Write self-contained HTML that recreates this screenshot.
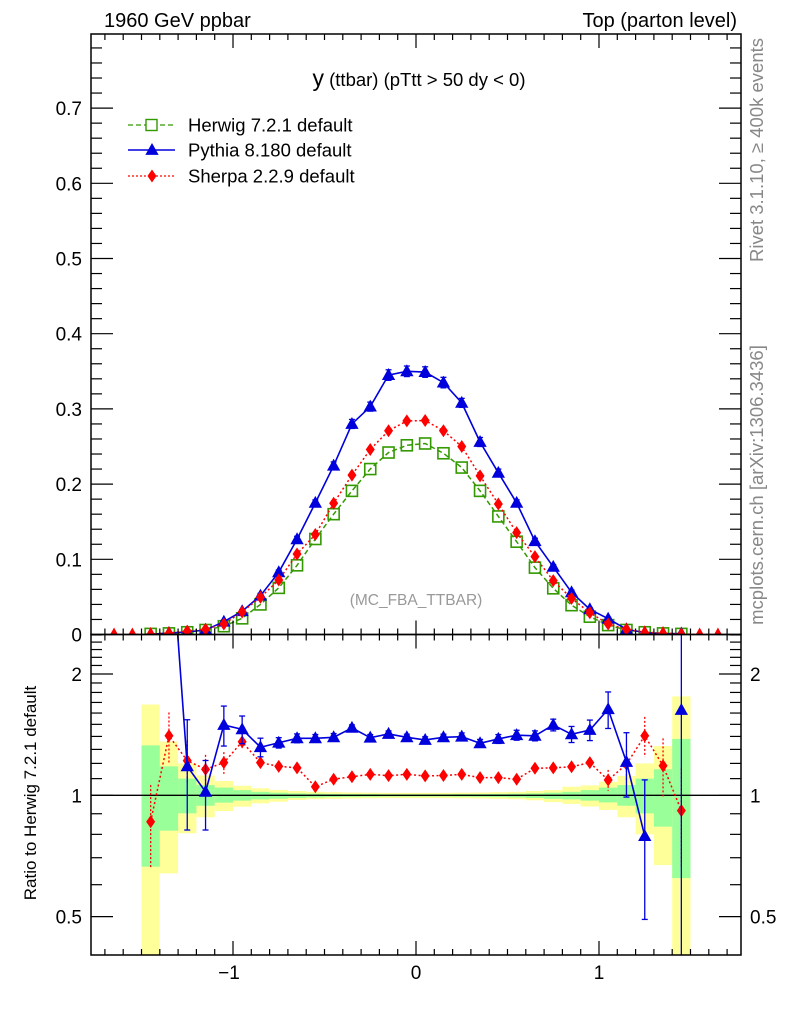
<!DOCTYPE html>
<html><head><meta charset="utf-8"><style>
html,body{margin:0;padding:0;background:#fff;overflow:hidden;width:786px;height:1024px;}
svg{display:block;font-family:"Liberation Sans",sans-serif;}
</style></head><body>
<svg id="c" width="786" height="1024" xmlns="http://www.w3.org/2000/svg"></svg>
<script>
const mainX = [-1.65,-1.55,-1.45,-1.35,-1.25,-1.15,-1.05,-0.95,-0.85,-0.75,-0.65,-0.55,-0.45,-0.35,-0.25,-0.15,-0.05,0.05,0.15,0.25,0.35,0.45,0.55,0.65,0.75,0.85,0.95,1.05,1.15,1.25,1.35,1.45,1.55,1.65];
const herwig = [null,null,0.0008,0.0015,0.003,0.006,0.011,0.0215,0.040,0.062,0.092,0.127,0.160,0.191,0.220,0.242,0.2516,0.254,0.241,0.222,0.191,0.157,0.1234,0.0889,0.0614,0.039,0.0237,0.0125,0.006,0.003,0.0015,0.0008,null,null];
const pythia = [null,null,0.0003,0.002,0.0035,0.006,0.017,0.031,0.0516,0.0827,0.1266,0.175,0.2245,0.28,0.303,0.345,0.350,0.349,0.335,0.308,0.256,0.215,0.175,0.124,0.090,0.056,0.0335,0.021,0.007,0.0025,0.001,0.0013,null,null];
const sherpa = [0,0,0.0007,0.002,0.0045,0.007,0.014,0.030,0.0495,0.0725,0.107,0.133,0.1745,0.212,0.246,0.271,0.284,0.2845,0.271,0.25,0.211,0.1735,0.1354,0.1035,0.0716,0.048,0.029,0.014,0.007,0.003,0.002,0.0007,0,0];
const pythiaErr = [0,0,0.001,0.001,0.001,0.001,0.002,0.002,0.003,0.003,0.004,0.004,0.005,0.006,0.006,0.007,0.007,0.007,0.007,0.006,0.006,0.005,0.004,0.004,0.003,0.003,0.002,0.002,0.001,0.001,0.001,0.001,0,0];
const ratioX = [-1.45,-1.35,-1.25,-1.15,-1.05,-0.95,-0.85,-0.75,-0.65,-0.55,-0.45,-0.35,-0.25,-0.15,-0.05,0.05,0.15,0.25,0.35,0.45,0.55,0.65,0.75,0.85,0.95,1.05,1.15,1.25,1.35,1.45];
const yelUp = [1.68,1.36,1.20,1.12,1.085,1.056,1.041,1.031,1.025,1.02,1.018,1.016,1.015,1.014,1.014,1.014,1.014,1.015,1.016,1.018,1.02,1.025,1.03,1.05,1.058,1.08,1.117,1.20,1.325,1.76];
const yelDn = [0.3,0.64,0.805,0.882,0.914,0.937,0.955,0.964,0.974,0.978,0.98,0.982,0.983,0.984,0.984,0.984,0.984,0.983,0.982,0.98,0.978,0.972,0.962,0.952,0.938,0.92,0.882,0.80,0.671,0.3];
const grUp = [1.33,1.18,1.10,1.06,1.045,1.03,1.02,1.015,1.011,1.009,1.008,1.007,1.007,1.006,1.006,1.006,1.006,1.007,1.007,1.008,1.009,1.011,1.015,1.02,1.03,1.045,1.06,1.10,1.16,1.38];
const grDn = [0.665,0.817,0.902,0.942,0.959,0.97,0.977,0.981,0.985,0.988,0.99,0.991,0.992,0.993,0.993,0.993,0.993,0.992,0.991,0.99,0.988,0.985,0.98,0.977,0.97,0.96,0.942,0.902,0.836,0.623];
const pyRatio = [null,5,1.18,1.02,1.495,1.458,1.316,1.35,1.385,1.385,1.393,1.47,1.39,1.42,1.393,1.372,1.393,1.398,1.346,1.38,1.41,1.405,1.495,1.417,1.452,1.635,1.21,0.792,null,1.628];
const pyRatioErr = [null,0,0.36,0.2,0.17,0.115,0.07,0.04,0.035,0.03,0.03,0.025,0.025,0.025,0.025,0.025,0.025,0.03,0.03,0.035,0.04,0.04,0.05,0.065,0.085,0.17,0.22,0.3,null,3];
const shRatio = [0.86,1.405,1.219,1.16,1.205,1.358,1.205,1.18,1.17,1.05,1.096,1.112,1.127,1.119,1.127,1.117,1.12,1.127,1.106,1.106,1.096,1.167,1.17,1.177,1.205,1.091,1.194,1.405,1.184,0.916];
const shRatioErr = [0.2,0.2,0.15,0.1,0.075,0.06,0.03,0.025,0.02,0.02,0.02,0.02,0.02,0.02,0.02,0.02,0.02,0.02,0.02,0.02,0.02,0.025,0.025,0.03,0.035,0.065,0.1,0.16,0.2,0.25];
const mainTicks = ["0","0.1","0.2","0.3","0.4","0.5","0.6","0.7"];
const xTicks = ["\u22121","0","1"];

const L=91,R=741,MT=34,MB=634.5,RT=634.5,RB=955;
const sx=v=>416+183*v;
const sy=v=>MB-752*v;
const ry=r=>795.3-121.3*Math.log2(r);
const svg=document.getElementById('c');
const NS='http://www.w3.org/2000/svg';
function el(t,a,p){const e=document.createElementNS(NS,t);for(const k in a)e.setAttribute(k,a[k]);(p||svg).appendChild(e);return e;}
function txt(s,a,p){const e=el('text',a,p);e.textContent=s;return e;}
function clip(id,y1,y2){const d=el('clipPath',{id});el('rect',{x:L,y:y1,width:R-L,height:y2-y1},d);}
clip('cm',MT,MB);clip('cr',RT,RB);

let t;
t=txt('1960 GeV ppbar',{x:104,y:27,'font-size':20});

t=txt('Top (parton level)',{x:737,y:27,'font-size':20,'text-anchor':'end'});

t=el('text',{x:419,y:86,'font-size':18.5,'text-anchor':'middle'});
t.innerHTML='<tspan font-size="23">y</tspan> (ttbar) (pTtt &gt; 50 dy &lt; 0)';

t=txt('Rivet 3.1.10, \u2265 400k events',{x:0,y:0,'font-size':18.5,fill:'#888','text-anchor':'middle',transform:'translate(763,150) rotate(-90)'});

t=txt('mcplots.cern.ch [arXiv:1306.3436]',{x:0,y:0,'font-size':18.5,fill:'#888','text-anchor':'middle',transform:'translate(763,485) rotate(-90)'});

t=txt('Ratio to Herwig 7.2.1 default',{x:0,y:0,'font-size':17,'text-anchor':'middle',transform:'translate(36,793) rotate(-90)'});

t=txt('(MC_FBA_TTBAR)',{x:416,y:605,'font-size':15.5,fill:'#999','text-anchor':'middle'});


const gb=el('g',{'clip-path':'url(#cr)'});

ratioX.forEach((x,i)=>{
  const x1=sx(x-0.05),x2=sx(x+0.05);
  let r=el('rect',{x:x1,y:ry(yelUp[i]),width:x2-x1,height:ry(yelDn[i])-ry(yelUp[i]),fill:'#ffff99'},gb);
  
});
ratioX.forEach((x,i)=>{
  const x1=sx(x-0.05),x2=sx(x+0.05);
  let r=el('rect',{x:x1,y:ry(grUp[i]),width:x2-x1,height:ry(grDn[i])-ry(grUp[i]),fill:'#99ff99'},gb);
  
});
el('line',{x1:L,x2:R,y1:ry(1),y2:ry(1),stroke:'#000','stroke-width':1.3});

function tri(g,x,y,s,c){return el('path',{d:`M${x},${y-s} L${x+s*0.95},${y+s*0.7} L${x-s*0.95},${y+s*0.7}Z`,fill:c},g);}
function dia(g,x,y,c){return el('path',{d:`M${x},${y-6.5} L${x+4.5},${y} L${x},${y+6.5} L${x-4.5},${y}Z`,fill:c},g);}
function sq(g,x,y){return el('rect',{x:x-5.5,y:y-5.5,width:11,height:11,fill:'none',stroke:'#339900','stroke-width':1.6},g);}
function errbar(g,x,y1,y2,c,w){el('line',{x1:x,x2:x,y1:y1,y2:y2,stroke:c,'stroke-width':w||1.3},g);
  el('line',{x1:x-3,x2:x+3,y1:y1,y2:y1,stroke:c,'stroke-width':1.3},g);el('line',{x1:x-3,x2:x+3,y1:y2,y2:y2,stroke:c,'stroke-width':1.3},g);}
function poly(g,xs,ys,c,dash,w){let pts=[];let segs=[];xs.forEach((x,i)=>{if(ys[i]==null){if(pts.length)segs.push(pts);pts=[];}else pts.push(x+','+ys[i]);});if(pts.length)segs.push(pts);
  segs.forEach(s=>el('polyline',{points:s.join(' '),fill:'none',stroke:c,'stroke-width':w||1.5,'stroke-dasharray':dash||'none'},g));}

const gm=el('g',{'clip-path':'url(#cm)'});

const gH=el('g',{},gm);
poly(gH,mainX.map(sx),herwig.map(v=>v==null?null:sy(v)),'#339900','5,3');
mainX.forEach((x,i)=>{if(herwig[i]!=null)sq(gH,sx(x),sy(herwig[i]));});
const gP=el('g',{},gm);
poly(gP,mainX.map(sx),pythia.map(v=>v==null?null:sy(v)),'#0000dd','none',1.6);
mainX.forEach((x,i)=>{if(pythia[i]!=null){errbar(gP,sx(x),sy(pythia[i]+pythiaErr[i]),sy(pythia[i]-pythiaErr[i]),'#0000dd');tri(gP,sx(x),sy(pythia[i]),7,'#0000dd');}});
const gS=el('g',{},gm);
poly(gS,mainX.map(sx),sherpa.map(v=>v==null?null:sy(v)),'#ff0000','2,2.5');
mainX.forEach((x,i)=>{const v=sherpa[i];if(v==null)return;if(v<0.0035)tri(gS,sx(x),sy(v)-1,6,'#ff0000');else dia(gS,sx(x),sy(v),'#ff0000');});

const gr=el('g',{'clip-path':'url(#cr)'});

const rS=el('g',{},gr);
poly(rS,ratioX.map(sx),shRatio.map(ry),'#ff0000','2,2.5');
ratioX.forEach((x,i)=>{el('line',{x1:sx(x),x2:sx(x),y1:ry(shRatio[i]+shRatioErr[i]),y2:ry(Math.max(0.2,shRatio[i]-shRatioErr[i])),stroke:'#ff0000','stroke-width':1.3,'stroke-dasharray':'2,2'},rS);dia(rS,sx(x),ry(shRatio[i]),'#ff0000');});
const rP=el('g',{},gr);
poly(rP,ratioX.map(sx),pyRatio.map(v=>v==null?null:ry(v)),'#0000dd','none',1.6);
ratioX.forEach((x,i)=>{const v=pyRatio[i];if(v==null)return;const e=pyRatioErr[i];
  if(e>0)errbar(rP,sx(x),ry(v+e),ry(Math.max(0.05,v-e)),'#0000dd');tri(rP,sx(x),ry(v),7,'#0000dd');});

let f=el('rect',{x:L,y:MT,width:R-L,height:MB-MT,fill:'none',stroke:'#000','stroke-width':1.5});

f=el('rect',{x:L,y:RT,width:R-L,height:RB-RT,fill:'none',stroke:'#000','stroke-width':1.5});


const gx=el('g',{});
for(let k=-17;k<=17;k++){const v=k/10,x=sx(v);const maj=k%10===0;const len=maj?14:6;
  [[MT,1],[MB,-1],[RT,1],[RB,-1]].forEach(([y,d])=>el('line',{x1:x,x2:x,y1:y,y2:y+d*len,stroke:'#000','stroke-width':1.2},gx));}
xTicks.forEach((s,i)=>{t=txt(s,{x:sx(i-1)-(i===0?4:0),y:979,'font-size':19,'text-anchor':'middle'},gx);});

const gy=el('g',{});
for(let k=0;k<=40;k++){const v=k/50,y=sy(v);if(y<MT-0.5)continue;const maj=k%5===0;const len=maj?22:11;
  el('line',{x1:L,x2:L+len,y1:y,y2:y,stroke:'#000','stroke-width':1.2},gy);el('line',{x1:R,x2:R-len,y1:y,y2:y,stroke:'#000','stroke-width':1.2},gy);}
mainTicks.forEach((s,i)=>{t=txt(s,{x:82,y:sy(i/10)+7,'font-size':19,'text-anchor':'end'},gy);});

const gry=el('g',{});
[0.4,0.5,0.6,0.7,0.8,0.9,1,1.1,1.2,1.3,1.4,1.5,1.6,1.7,1.8,1.9,2,2.1,2.2,2.3,2.4,2.5].forEach(v=>{const y=ry(v);if(y<RT||y>RB)return;const maj=(v===0.5||v===1||v===2);const len=maj?22:11;
  el('line',{x1:L,x2:L+len,y1:y,y2:y,stroke:'#000','stroke-width':1.2},gry);el('line',{x1:R,x2:R-len,y1:y,y2:y,stroke:'#000','stroke-width':1.2},gry);});
[['2',2],['1',1],['0.5',0.5]].forEach(([s,v])=>{t=txt(s,{x:82,y:ry(v)+7,'font-size':19,'text-anchor':'end'},gry);
  t=txt(s,{x:750,y:ry(v)+7,'font-size':19},gry);});

const lg=el('g',{});
const names=['Herwig 7.2.1 default','Pythia 8.180 default','Sherpa 2.2.9 default'];
[125,150,176].forEach((y,i)=>{const e=el('g',{},lg);
  if(i===0){el('line',{x1:128,x2:175,y1:y,y2:y,stroke:'#339900','stroke-width':1.3,'stroke-dasharray':'5,3'},e);el('rect',{x:146,y:y-5.5,width:11,height:11,fill:'#fff',stroke:'#339900','stroke-width':1.4},e);}
  if(i===1){el('line',{x1:128,x2:175,y1:y,y2:y,stroke:'#0000dd','stroke-width':1.5},e);tri(e,152,y,7,'#0000dd');}
  if(i===2){el('line',{x1:128,x2:175,y1:y,y2:y,stroke:'#ff0000','stroke-width':1.3,'stroke-dasharray':'2,2'},e);dia(e,152,y,'#ff0000');}
  txt(names[i],{x:188,y:y+6.5,'font-size':18.5},e);});
</script>
</body></html>
